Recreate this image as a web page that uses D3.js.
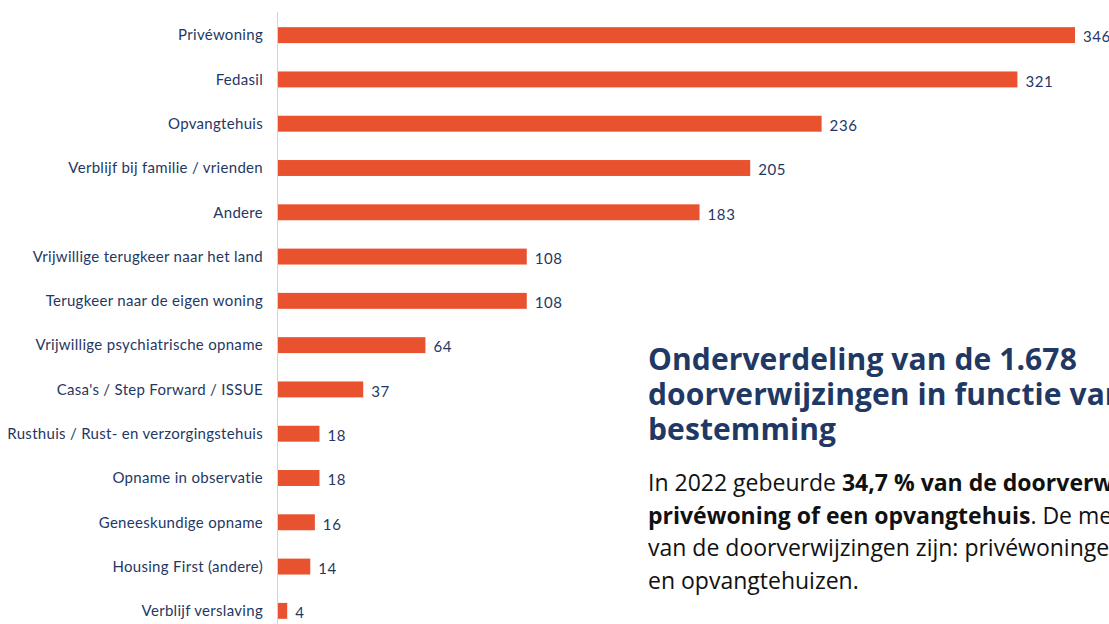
<!DOCTYPE html>
<html>
<head>
<meta charset="utf-8">
<script src="https://cdn.jsdelivr.net/npm/d3@7"></script>
<style>
  body { margin: 0; background: #ffffff; overflow: hidden; }
</style>
</head>
<body>
<div id="chart"></div>
<script>
// Chart data
const categories = [
    "Privéwoning",
    "Fedasil",
    "Opvangtehuis",
    "Verblijf bij familie / vrienden",
    "Andere",
    "Vrijwillige terugkeer naar het land",
    "Terugkeer naar de eigen woning",
    "Vrijwillige psychiatrische opname",
    "Casa's / Step Forward / ISSUE",
    "Rusthuis / Rust- en verzorgingstehuis",
    "Opname in observatie",
    "Geneeskundige opname",
    "Housing First (andere)",
    "Verblijf verslaving"
];
const values = [346, 321, 236, 205, 183, 108, 108, 64, 37, 18, 18, 16, 14, 4];

const titleLines = [
    "Onderverdeling van de 1.678",
    "doorverwijzingen in functie van de",
    "bestemming"
];
// each line is a list of [text, bold]
const bodyLines = [
    [["In 2022 gebeurde ", false], ["34,7 % van de doorverwijzingen naar een", true]],
    [["privéwoning of een opvangtehuis", true], [". De meeste bestemmingen", false]],
    [["van de doorverwijzingen zijn: privéwoningen, Fedasil", false]],
    [["en opvangtehuizen.", false]]
];

const width = 1109;
const height = 624;
const navy = "#1f3864";
const barColor = "#e9522f";

const svg = d3.select("#chart")
    .append("svg")
    .attr("width", width)
    .attr("height", height);

// Scales
const x = d3.scaleLinear()
    .domain([0, 346])
    .range([278, 1075]);

const y = d3.scaleBand()
    .domain(categories)
    .range([13, 633])
    .paddingInner(0.64)
    .paddingOuter(0.32);

// Axis line on the left of the bars
svg.append("line")
    .attr("x1", 277.5)
    .attr("x2", 277.5)
    .attr("y1", 12)
    .attr("y2", height)
    .style("stroke", "#d4d4d4")
    .style("stroke-width", 1);

// Bars
svg.selectAll("rect.bar")
    .data(values)
    .enter()
    .append("rect")
    .attr("class", "bar")
    .attr("x", x(0))
    .attr("y", (d, i) => y(categories[i]))
    .attr("width", d => x(d) - x(0))
    .attr("height", y.bandwidth())
    .style("fill", barColor);

// Category labels
svg.selectAll("text.cat")
    .data(categories)
    .enter()
    .append("text")
    .attr("class", "cat")
    .attr("x", 263)
    .attr("y", d => y(d) + y.bandwidth() / 2)
    .attr("dy", "0.35em")
    .attr("text-anchor", "end")
    .attr("font-family", "Lato, 'Open Sans', sans-serif")
    .attr("font-size", "15px")
    .attr("letter-spacing", "0.3px")
    .style("fill", navy)
    .text(d => d);

// Value labels
svg.selectAll("text.val")
    .data(values)
    .enter()
    .append("text")
    .attr("class", "val")
    .attr("x", d => x(d) + 8)
    .attr("y", (d, i) => y(categories[i]) + y.bandwidth() / 2 + 2)
    .attr("dy", "0.35em")
    .attr("font-family", "Lato, 'Open Sans', sans-serif")
    .attr("font-size", "15px")
    .attr("letter-spacing", "0.6px")
    .style("fill", navy)
    .text(d => d);

// Title
svg.append("text")
    .attr("x", 648)
    .attr("y", 370)
    .attr("font-family", "'Open Sans', sans-serif")
    .attr("font-weight", "bold")
    .attr("font-size", "30px")
    .attr("letter-spacing", "0.1px")
    .style("fill", navy)
    .selectAll("tspan")
    .data(titleLines)
    .enter()
    .append("tspan")
    .attr("x", 648)
    .attr("dy", (d, i) => i === 0 ? 0 : 35)
    .text(d => d);

// Body text
bodyLines.forEach(function(line, i) {
    const t = svg.append("text")
        .attr("x", 648)
        .attr("y", 491 + i * 32.5)
        .attr("font-family", "'Open Sans', sans-serif")
        .attr("font-size", "23px")
        .style("fill", "#111111");
    line.forEach(function(part) {
        t.append("tspan")
            .attr("font-weight", part[1] ? "bold" : "normal")
            .text(part[0]);
    });
});
</script>
</body>
</html>
